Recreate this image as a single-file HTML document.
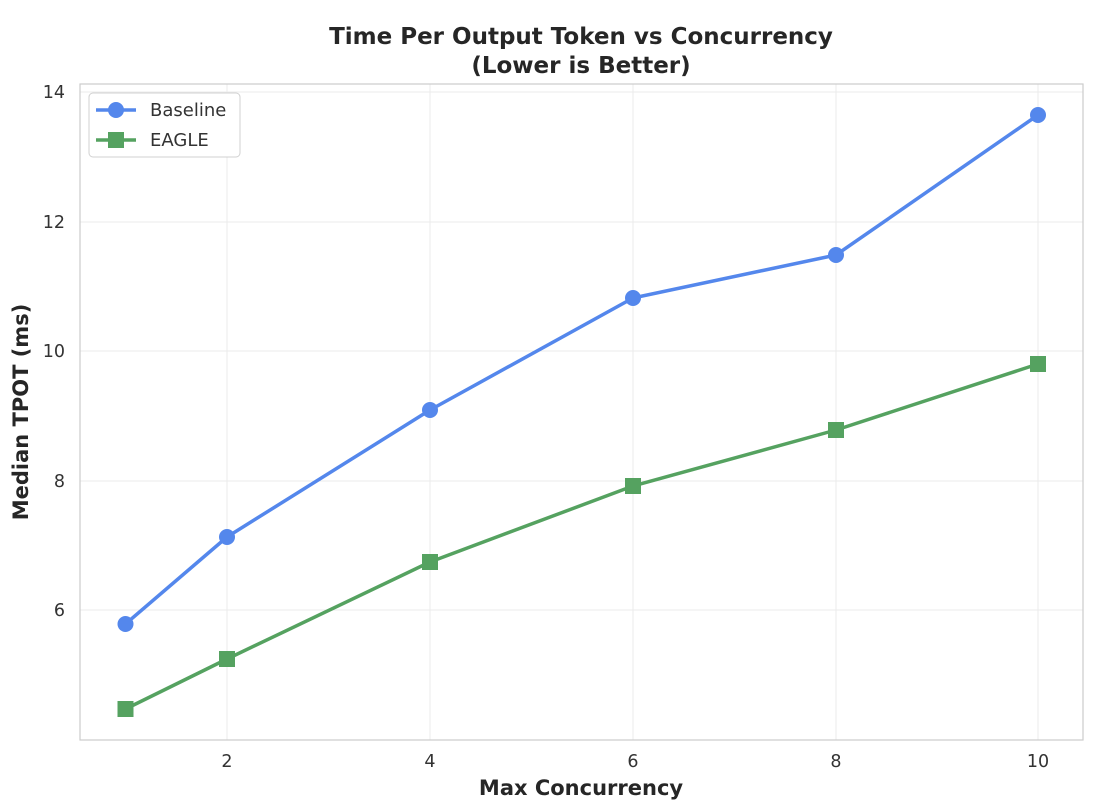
<!DOCTYPE html>
<html><head><style>body{margin:0;background:#fff}svg{display:block;font-family:"DejaVu Sans","Liberation Sans",sans-serif}</style></head>
<body>
<svg width="1096" height="810" viewBox="0 0 1096 810">
<rect width="1096" height="810" fill="#fff"/>
<g stroke="#ebebeb" stroke-width="1">
<line x1="227" y1="84" x2="227" y2="740"/><line x1="430" y1="84" x2="430" y2="740"/><line x1="633" y1="84" x2="633" y2="740"/><line x1="836" y1="84" x2="836" y2="740"/><line x1="1038" y1="84" x2="1038" y2="740"/>
<line x1="80" y1="92" x2="1083" y2="92"/><line x1="80" y1="222" x2="1083" y2="222"/><line x1="80" y1="351" x2="1083" y2="351"/><line x1="80" y1="481" x2="1083" y2="481"/><line x1="80" y1="610" x2="1083" y2="610"/>
</g>
<rect x="80" y="84" width="1003" height="656" fill="none" stroke="#cccccc" stroke-width="1.2"/>
<g font-size="17.5" fill="#333" text-anchor="middle">
<text x="227" y="767">2</text><text x="430" y="767">4</text><text x="633" y="767">6</text><text x="836" y="767">8</text><text x="1038" y="767">10</text>
</g>
<g font-size="17.5" fill="#333" text-anchor="end">
<text x="65" y="98">14</text><text x="65" y="228">12</text><text x="65" y="357">10</text><text x="65" y="487">8</text><text x="65" y="616">6</text>
</g>
<text x="581" y="795" font-size="21" font-weight="bold" fill="#262626" text-anchor="middle">Max Concurrency</text>
<text transform="translate(28,412) rotate(-90)" font-size="21" font-weight="bold" fill="#262626" text-anchor="middle">Median TPOT (ms)</text>
<text x="581" y="44" font-size="23" font-weight="bold" fill="#262626" text-anchor="middle">Time Per Output Token vs Concurrency</text>
<text x="581" y="73" font-size="23" font-weight="bold" fill="#262626" text-anchor="middle">(Lower is Better)</text>
<polyline points="125.5,624 227,537 430,410 633,298 836,255 1038,115" fill="none" stroke="#5487ec" stroke-width="3.5" stroke-linejoin="round"/>
<g fill="#5487ec"><circle cx="125.5" cy="624" r="8"/><circle cx="227" cy="537" r="8"/><circle cx="430" cy="410" r="8"/><circle cx="633" cy="298" r="8"/><circle cx="836" cy="255" r="8"/><circle cx="1038" cy="115" r="8"/></g>
<polyline points="125.5,709 227,659 430,562 633,486 836,430 1038,364" fill="none" stroke="#55a260" stroke-width="3.5" stroke-linejoin="round"/>
<g fill="#55a260"><rect x="117.5" y="701" width="16" height="16"/><rect x="219" y="651" width="16" height="16"/><rect x="422" y="554" width="16" height="16"/><rect x="625" y="478" width="16" height="16"/><rect x="828" y="422" width="16" height="16"/><rect x="1030" y="356" width="16" height="16"/></g>
<rect x="89" y="93" width="151" height="64" rx="4" fill="#fff" stroke="#d0d0d0"/>
<line x1="96" y1="110" x2="136" y2="110" stroke="#5487ec" stroke-width="3.5"/><circle cx="116" cy="110" r="8" fill="#5487ec"/>
<line x1="96" y1="140" x2="136" y2="140" stroke="#55a260" stroke-width="3.5"/><rect x="108" y="132" width="16" height="16" fill="#55a260"/>
<text x="150" y="116" font-size="18" fill="#333">Baseline</text>
<text x="150" y="146" font-size="18" fill="#333">EAGLE</text>
</svg>
</body></html>
